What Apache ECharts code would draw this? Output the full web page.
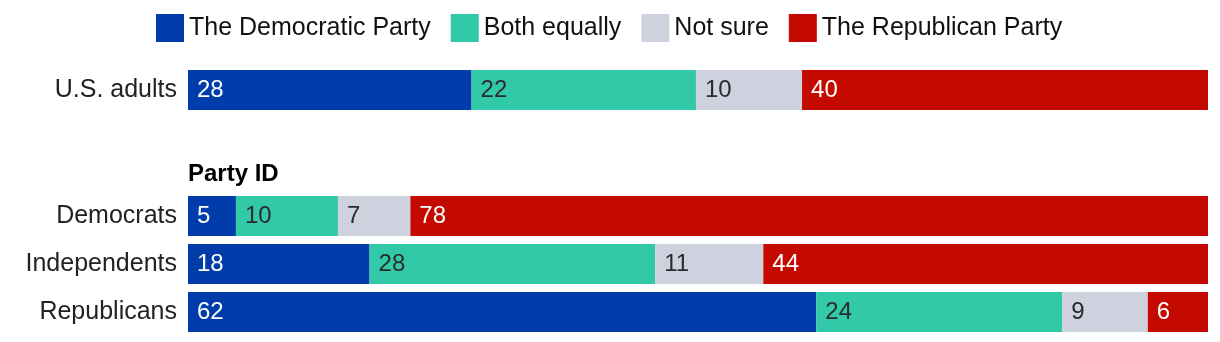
<!DOCTYPE html>
<html>
<head>
<meta charset="utf-8">
<script src="https://cdn.jsdelivr.net/npm/echarts@6/dist/echarts.min.js"></script>
<style>
html,body{margin:0;padding:0;background:#fff;}
#chart{width:1220px;height:342px;}
</style>
</head>
<body>
<div id="chart"></div>
<script>
var seriesNames = ['The Democratic Party', 'Both equally', 'Not sure', 'The Republican Party'];
var colors = ['#003DAA', '#31C9A8', '#CDD2DE', '#C40A00'];
var labelColors = ['#ffffff', '#2b2b2b', '#2b2b2b', '#ffffff'];

// U.S. adults: bar lengths (estimated share) and printed labels
var topCategories = ['U.S. adults'];
var topDem = [27.8];
var topBoth = [22.0];
var topNotSure = [10.4];
var topRep = [39.8];
var topLabelDem = [28];
var topLabelBoth = [22];
var topLabelNotSure = [10];
var topLabelRep = [40];

// Party ID group
var groupTitle = 'Party ID';
var groupCategories = ['Democrats', 'Independents', 'Republicans'];
var groupDem = [4.7, 17.8, 61.6];
var groupBoth = [10.0, 28.0, 24.1];
var groupNotSure = [7.1, 10.6, 8.4];
var groupRep = [78.2, 43.6, 5.9];
var groupLabelDem = [5, 18, 62];
var groupLabelBoth = [10, 28, 24];
var groupLabelNotSure = [7, 11, 9];
var groupLabelRep = [78, 44, 6];

var FONT = '"Liberation Sans", Arial, sans-serif';

function makeSeries(vals, labels, gridIdx) {
  return vals.map(function (arr, k) {
    var lab = labels[k];
    return {
      name: seriesNames[k],
      type: 'bar',
      stack: 'g' + gridIdx,
      xAxisIndex: gridIdx,
      yAxisIndex: gridIdx,
      barWidth: 40,
      itemStyle: { color: colors[k] },
      label: {
        show: true,
        position: 'insideLeft',
        distance: 9,
        color: labelColors[k],
        fontFamily: FONT,
        fontSize: 24,
        formatter: function (p) { return lab[p.dataIndex]; }
      },
      emphasis: { disabled: true },
      data: arr
    };
  });
}

var chart = echarts.init(document.getElementById('chart'), null, { renderer: 'canvas' });
var axisCommon = {
  type: 'value', min: 0, max: 100,
  axisLine: { show: false }, axisTick: { show: false },
  axisLabel: { show: false }, splitLine: { show: false }
};
var catCommon = {
  type: 'category', inverse: true,
  axisLine: { show: false }, axisTick: { show: false },
  axisLabel: { color: '#222', fontSize: 25, fontFamily: FONT, margin: 11 }
};
chart.setOption({
  animation: false,
  backgroundColor: '#ffffff',
  legend: {
    left: 156, top: 14, padding: 0,
    itemWidth: 28, itemHeight: 28, itemGap: 20,
    icon: 'rect',
    selectedMode: false,
    textStyle: { color: '#111', fontSize: 25, fontFamily: FONT },
    data: seriesNames
  },
  graphic: [{
    type: 'text', left: 188, top: 162,
    style: { text: groupTitle, fill: '#000', font: 'bold 24px ' + FONT }
  }],
  grid: [
    { left: 188, right: 12, top: 66, height: 48 },
    { left: 188, right: 12, top: 192, height: 144 }
  ],
  xAxis: [
    Object.assign({ gridIndex: 0 }, axisCommon),
    Object.assign({ gridIndex: 1 }, axisCommon)
  ],
  yAxis: [
    Object.assign({ gridIndex: 0, data: topCategories }, catCommon),
    Object.assign({ gridIndex: 1, data: groupCategories }, catCommon)
  ],
  series: makeSeries([topDem, topBoth, topNotSure, topRep],
                     [topLabelDem, topLabelBoth, topLabelNotSure, topLabelRep], 0)
    .concat(makeSeries([groupDem, groupBoth, groupNotSure, groupRep],
                       [groupLabelDem, groupLabelBoth, groupLabelNotSure, groupLabelRep], 1))
});
</script>
</body>
</html>
